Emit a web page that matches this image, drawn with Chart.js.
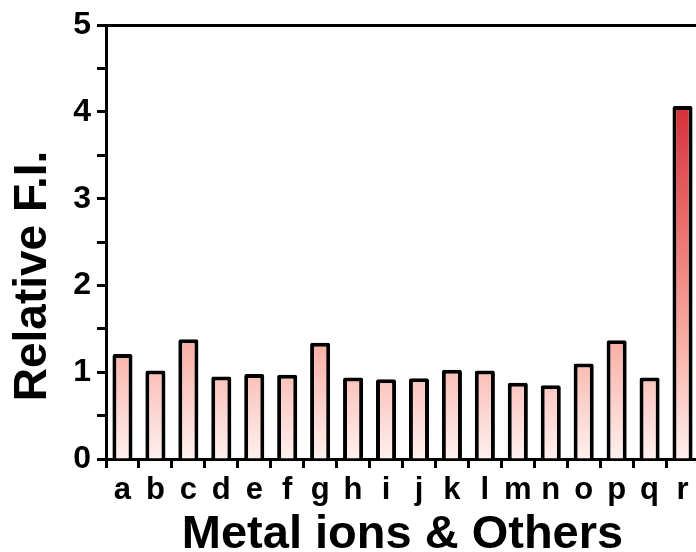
<!DOCTYPE html>
<html lang="en">
<head>
    <meta charset="UTF-8" />
    <title>Relative F.I.</title>
    <style>
        * { margin: 0; padding: 0; box-sizing: border-box; }
        body { background: #fff; overflow: hidden; width: 696px; height: 552px; }
        .chart-box { width: 720px; height: 552px; }
    </style>
</head>
<body>
    <div class="chart-box">
        <canvas id="fiChart" width="720" height="552"></canvas>
    </div>
    <script src="https://cdn.jsdelivr.net/npm/chart.js"></script>
    <script>
        // data
        const categories = ['a', 'b', 'c', 'd', 'e', 'f', 'g', 'h', 'i', 'j', 'k', 'l', 'm', 'n', 'o', 'p', 'q', 'r'];
        const relativeFI = [1.21, 1.02, 1.38, 0.95, 0.98, 0.97, 1.34, 0.94, 0.92, 0.93, 1.03, 1.02, 0.88, 0.85, 1.1, 1.37, 0.94, 4.07];
        const yTickLabels = ['0', '1', '2', '3', '4', '5'];

        const FONT = "'Liberation Sans', Arial, sans-serif";

        // one vertical gradient for all bars: pale pink at 0, deep red at 4
        function barFill(context) {
            const chart = context.chart;
            if (!chart.chartArea) return '#f9b5aa';
            const y = chart.scales.y;
            const g = chart.ctx.createLinearGradient(0, y.getPixelForValue(0), 0, y.getPixelForValue(4));
            g.addColorStop(0, '#fff0ee');
            g.addColorStop(0.33, '#f9b0a6');
            g.addColorStop(0.7, '#e96a69');
            g.addColorStop(1, '#d6333a');
            return g;
        }

        const ctx = document.getElementById('fiChart').getContext('2d');
        const fiChart = new Chart(ctx, {
            type: 'bar',
            data: {
                labels: categories,
                datasets: [{
                    data: relativeFI,
                    backgroundColor: barFill,
                    borderColor: '#000',
                    borderWidth: 4,
                    borderRadius: 2,
                    borderSkipped: 'start',
                    barPercentage: 0.61,
                    categoryPercentage: 1.0
                }]
            },
            options: {
                responsive: false,
                animation: false,
                devicePixelRatio: 1,
                layout: { padding: { right: 21 } },
                plugins: {
                    legend: { display: false },
                    tooltip: { enabled: false },
                    title: {
                        display: true,
                        position: 'left',
                        text: 'Relative F.I.',
                        color: '#000',
                        font: { family: FONT, size: 46, weight: 'bold', lineHeight: 1 },
                        padding: { top: 10, bottom: 0 }
                    }
                },
                scales: {
                    x: {
                        position: 'bottom',
                        afterFit: (s) => { s.height = 93; },
                        grid: {
                            offset: true,
                            drawOnChartArea: false,
                            tickLength: 9,
                            tickWidth: 3,
                            tickColor: '#000'
                        },
                        border: { color: '#000', width: 3 },
                        ticks: {
                            color: '#000',
                            padding: 4,
                            autoSkip: false,
                            maxRotation: 0,
                            minRotation: 0,
                            font: { family: FONT, size: 31, weight: 'bold' }
                        },
                        title: {
                            display: true,
                            text: 'Metal ions & Others',
                            color: '#000',
                            font: { family: FONT, size: 47, weight: 'bold', lineHeight: 1 },
                            padding: { top: 0, bottom: -7 }
                        }
                    },
                    xTop: {
                        position: 'top',
                        afterFit: (s) => { s.height = 24; },
                        grid: { display: false },
                        ticks: { display: false },
                        border: { color: '#000', width: 3 }
                    },
                    y: {
                        min: 0,
                        max: 5,
                        afterFit: (s) => { s.width = 50; },
                        grid: {
                            drawOnChartArea: false,
                            tickLength: 9,
                            tickWidth: 3,
                            tickColor: '#000'
                        },
                        border: { color: '#000', width: 3 },
                        ticks: {
                            stepSize: 0.5,
                            color: '#000',
                            padding: 6,
                            font: { family: FONT, size: 32, weight: 'bold' },
                            callback: (v) => Number.isInteger(v) ? yTickLabels[v] : ''
                        }
                    }
                }
            }
        });
    </script>
</body>
</html>
